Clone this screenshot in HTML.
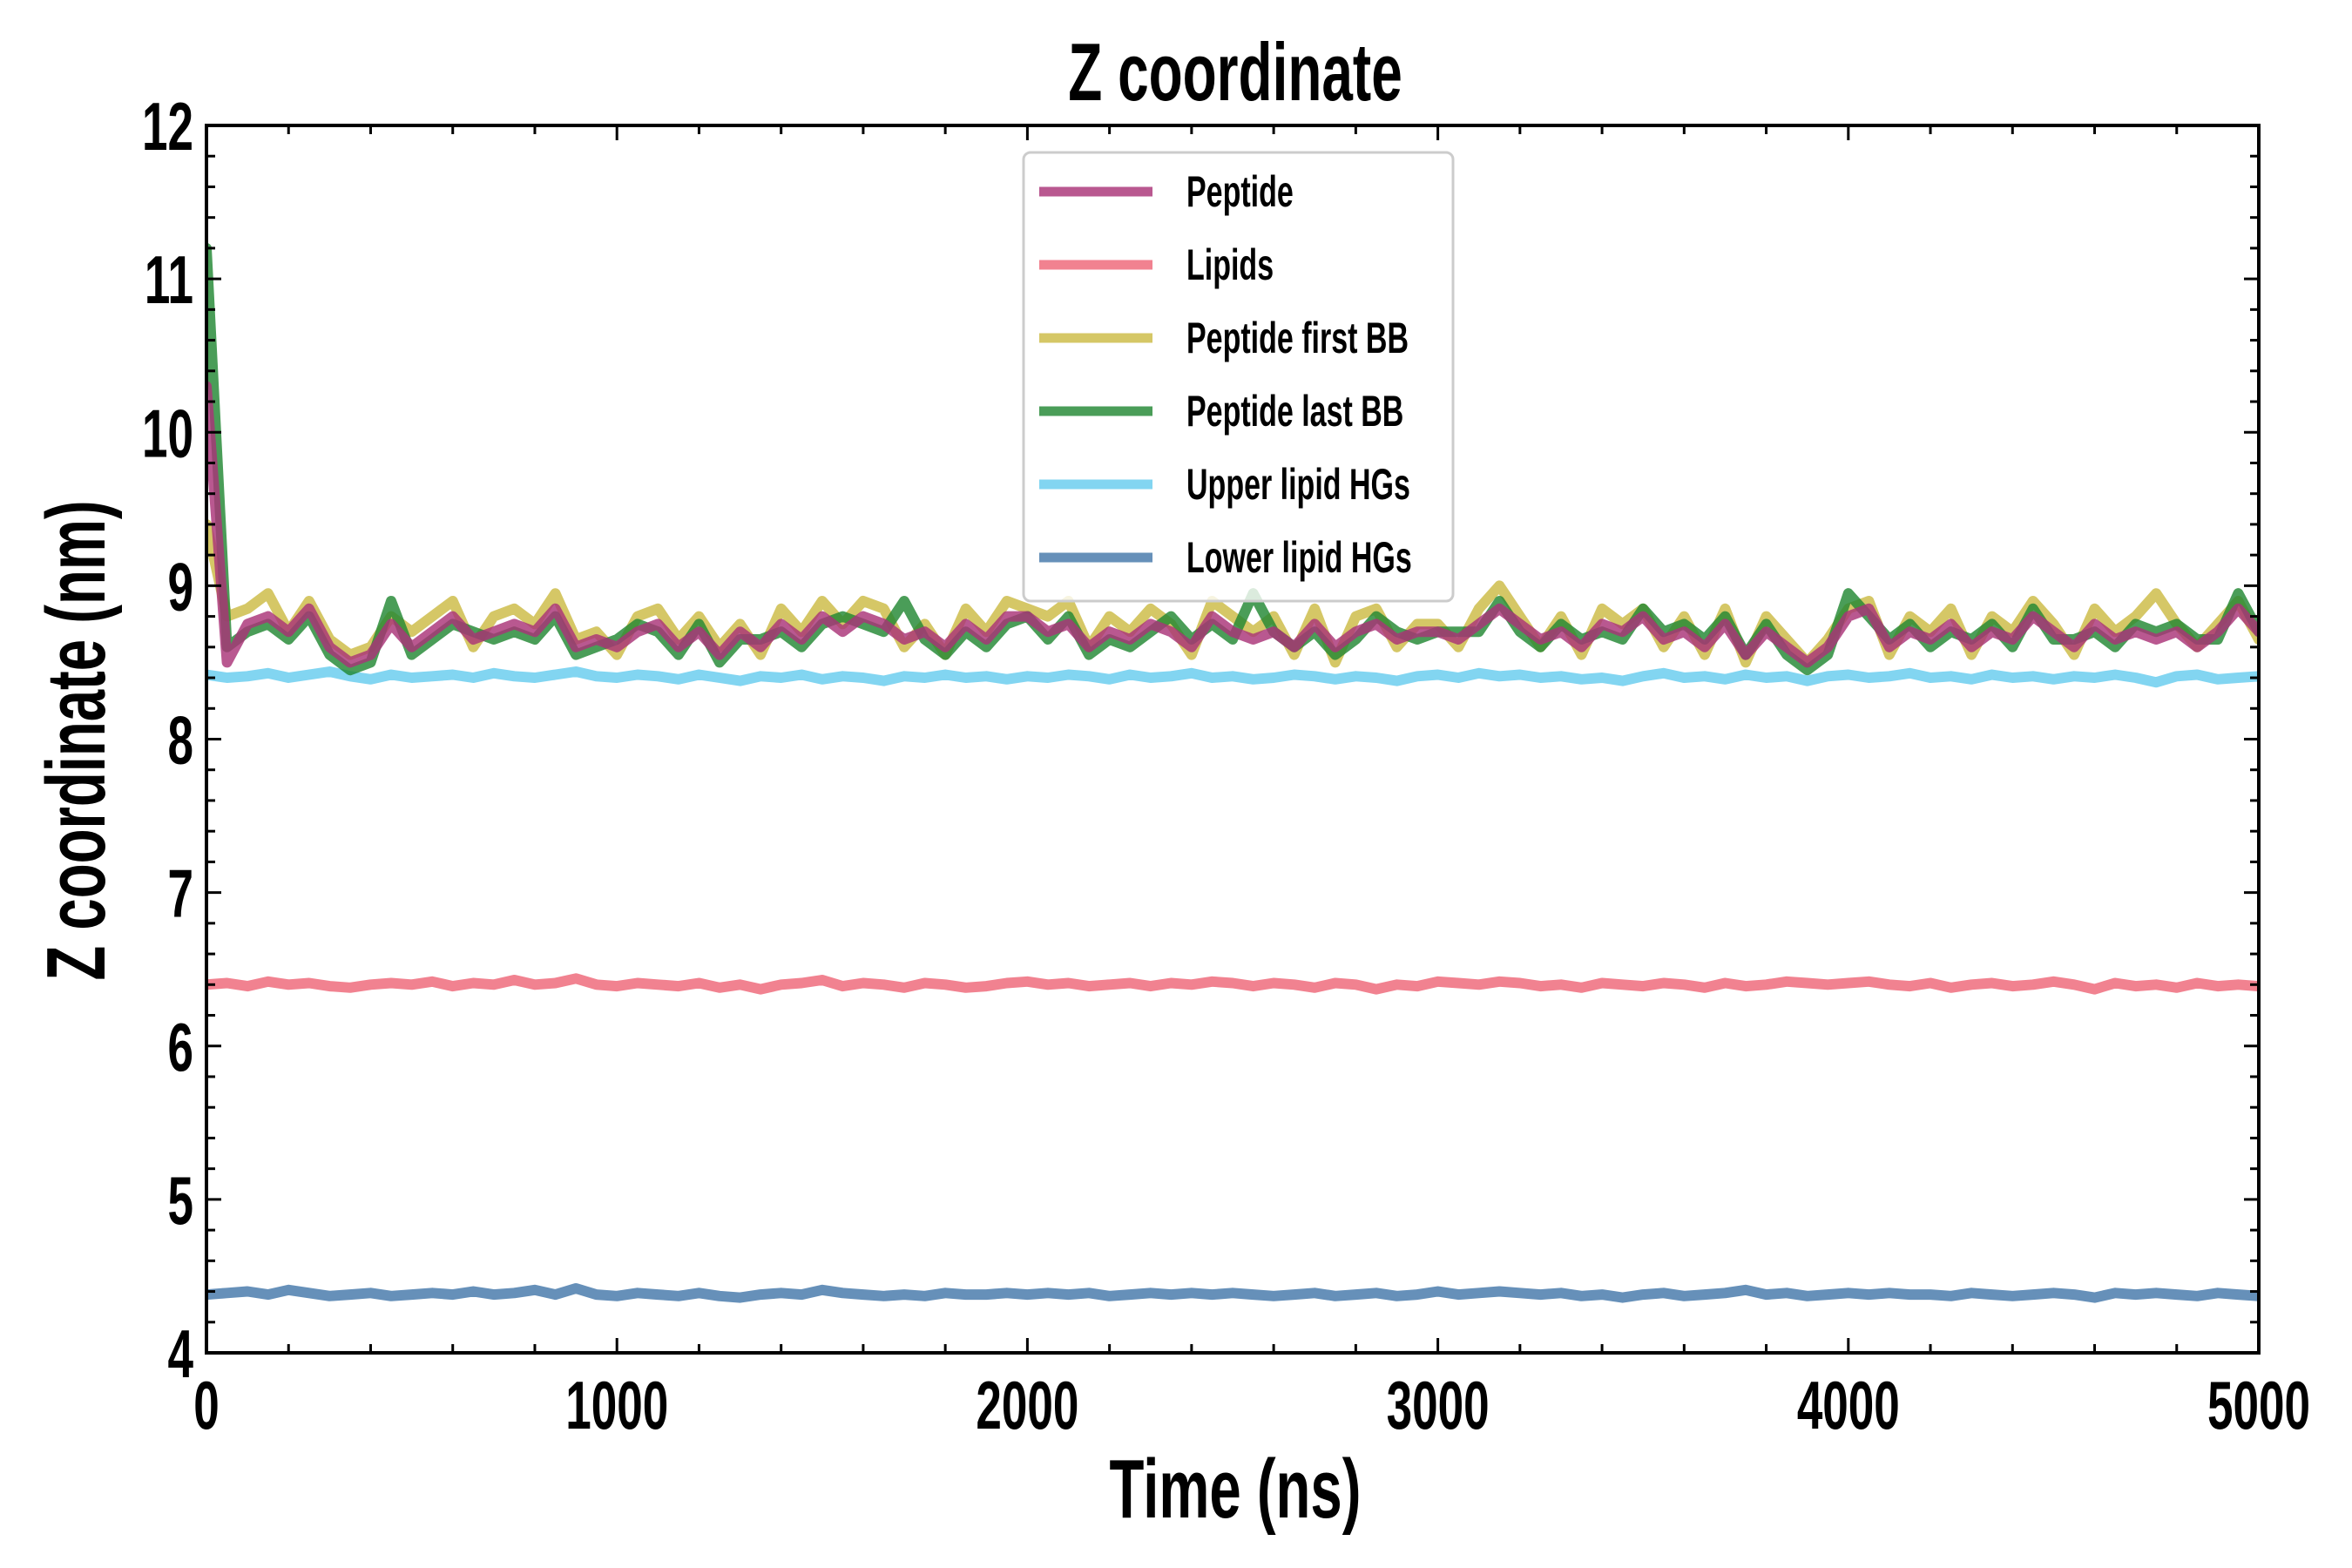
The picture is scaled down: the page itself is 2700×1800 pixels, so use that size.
<!DOCTYPE html>
<html><head><meta charset="utf-8"><style>
html,body{margin:0;padding:0;background:#fff;}
svg{display:block;}
text{font-family:"Liberation Sans",sans-serif;font-weight:bold;fill:#000;}
</style></head>
<body>
<svg id="chart" width="2700" height="1800" viewBox="0 0 2700 1800" xmlns="http://www.w3.org/2000/svg">
<rect width="2700" height="1800" fill="#fff"/>
<g id="series"></g>
<g id="axes"></g>
<g id="legend"></g>
</svg>
<script>
const timeStep = 50;
const peptide = [10.3,8.5,8.75,8.8,8.7,8.85,8.6,8.5,8.55,8.75,8.6,8.7,8.8,8.65,8.7,8.75,8.7,8.85,8.6,8.65,
8.6,8.7,8.75,8.6,8.7,8.55,8.7,8.6,8.75,8.65,
8.8,8.7,8.8,8.75,8.65,8.7,8.6,8.75,8.65,8.8,
8.8,8.7,8.75,8.6,8.7,8.65,8.75,8.7,8.6,8.8,
8.7,8.65,8.7,8.6,8.75,8.6,8.7,8.75,8.65,8.7,
8.7,8.65,8.75,8.85,8.75,8.65,8.7,8.6,8.75,8.7,
8.8,8.65,8.7,8.6,8.75,8.55,8.7,8.6,8.5,8.6,
8.8,8.85,8.6,8.7,8.65,8.75,8.6,8.7,8.65,8.8,
8.7,8.6,8.75,8.65,8.7,8.65,8.7,8.6,8.7,8.85,8.7];
const firstBB = [9.4,8.8,8.85,8.95,8.7,8.9,8.65,8.55,8.6,8.8,8.7,8.8,8.9,8.6,8.8,8.85,8.75,8.95,8.65,8.7,
8.55,8.8,8.85,8.65,8.8,8.6,8.75,8.55,8.85,8.7,
8.9,8.75,8.9,8.85,8.6,8.75,8.55,8.85,8.7,8.9,
8.85,8.8,8.9,8.6,8.8,8.7,8.85,8.75,8.55,8.9,
8.8,8.7,8.8,8.55,8.85,8.5,8.8,8.85,8.6,8.75,
8.75,8.6,8.85,9.0,8.8,8.6,8.8,8.55,8.85,8.75,
8.85,8.6,8.8,8.55,8.85,8.5,8.8,8.65,8.5,8.65,
8.85,8.9,8.55,8.8,8.7,8.85,8.55,8.8,8.7,8.9,
8.75,8.55,8.85,8.7,8.8,8.95,8.75,8.6,8.75,8.9,8.65];
const lastBB = [11.2,8.6,8.7,8.75,8.65,8.8,8.55,8.45,8.5,8.9,8.55,8.65,8.75,8.7,8.65,8.7,8.65,8.8,8.55,8.6,
8.65,8.75,8.7,8.55,8.75,8.5,8.65,8.65,8.7,8.6,
8.75,8.8,8.75,8.7,8.9,8.65,8.55,8.7,8.6,8.75,
8.8,8.65,8.8,8.55,8.65,8.6,8.7,8.8,8.65,8.75,
8.65,8.95,8.7,8.6,8.7,8.55,8.65,8.8,8.7,8.65,
8.7,8.7,8.7,8.9,8.7,8.6,8.75,8.65,8.7,8.65,
8.85,8.7,8.75,8.65,8.8,8.55,8.75,8.55,8.45,8.55,
8.95,8.8,8.65,8.75,8.6,8.7,8.65,8.75,8.6,8.85,
8.65,8.65,8.7,8.6,8.75,8.7,8.75,8.65,8.65,8.95,8.7];
const upperHG = [8.42,8.4,8.41,8.43,8.4,8.42,8.44,8.41,8.39,8.42,8.4,8.41,8.42,8.4,8.43,8.41,8.4,8.42,8.44,8.41,
8.4,8.42,8.41,8.39,8.42,8.4,8.38,8.41,8.4,8.42,
8.39,8.41,8.4,8.38,8.41,8.4,8.42,8.4,8.41,8.39,
8.41,8.4,8.42,8.41,8.39,8.42,8.4,8.41,8.43,8.4,
8.41,8.39,8.4,8.42,8.41,8.39,8.41,8.4,8.38,8.41,
8.42,8.4,8.43,8.41,8.42,8.4,8.41,8.39,8.4,8.38,
8.41,8.43,8.4,8.41,8.39,8.42,8.4,8.41,8.38,8.41,
8.42,8.4,8.41,8.43,8.4,8.41,8.39,8.42,8.4,8.41,
8.39,8.41,8.4,8.42,8.4,8.37,8.41,8.42,8.39,8.4,8.41];
const lipids = [6.4,6.41,6.39,6.42,6.4,6.41,6.39,6.38,6.4,6.41,6.4,6.42,6.39,6.41,6.4,6.43,6.4,6.41,6.44,6.4,
6.39,6.41,6.4,6.39,6.41,6.38,6.4,6.37,6.4,6.41,
6.43,6.39,6.41,6.4,6.38,6.41,6.4,6.38,6.39,6.41,
6.42,6.4,6.41,6.39,6.4,6.41,6.39,6.41,6.4,6.42,
6.41,6.39,6.41,6.4,6.38,6.41,6.4,6.37,6.4,6.39,
6.42,6.41,6.4,6.42,6.41,6.39,6.4,6.38,6.41,6.4,
6.39,6.41,6.4,6.38,6.41,6.39,6.4,6.42,6.41,6.4,
6.41,6.42,6.4,6.39,6.41,6.38,6.4,6.41,6.39,6.4,
6.42,6.4,6.37,6.41,6.39,6.4,6.38,6.41,6.39,6.4,6.39];
const lowerHG = [4.38,4.39,4.4,4.38,4.41,4.39,4.37,4.38,4.39,4.37,4.38,4.39,4.38,4.4,4.38,4.39,4.41,4.38,4.42,4.38,
4.37,4.39,4.38,4.37,4.39,4.37,4.36,4.38,4.39,4.38,
4.41,4.39,4.38,4.37,4.38,4.37,4.39,4.38,4.38,4.39,
4.38,4.39,4.38,4.39,4.37,4.38,4.39,4.38,4.39,4.38,
4.39,4.38,4.37,4.38,4.39,4.37,4.38,4.39,4.37,4.38,
4.4,4.38,4.39,4.4,4.39,4.38,4.39,4.37,4.38,4.36,
4.38,4.39,4.37,4.38,4.39,4.41,4.38,4.39,4.37,4.38,
4.39,4.38,4.39,4.38,4.38,4.37,4.39,4.38,4.37,4.38,
4.39,4.38,4.36,4.39,4.38,4.39,4.38,4.37,4.39,4.38,4.37];
const seriesNames = ["Peptide","Lipids","Peptide first BB","Peptide last BB","Upper lipid HGs","Lower lipid HGs"];
const xTicks = [0,1000,2000,3000,4000,5000];
const yTicks = [4,5,6,7,8,9,10,11,12];

const L=237,R=2593,T=144,B=1553, X0=0,X1=5000,Y0=4,Y1=12;
const NS="http://www.w3.org/2000/svg";
function xs(v){return L+(v-X0)/(X1-X0)*(R-L);}
function ys(v){return B-(v-Y0)/(Y1-Y0)*(B-T);}
function mk(tag,attrs,parent){const e=document.createElementNS(NS,tag);for(const k in attrs)e.setAttribute(k,attrs[k]);parent.appendChild(e);return e;}

const colors={"Peptide":"#aa3377","Lipids":"#ee6677","Peptide first BB":"#ccbb44","Peptide last BB":"#228833","Upper lipid HGs":"#66ccee","Lower lipid HGs":"#4477aa"};
const dataMap={"Peptide":peptide,"Lipids":lipids,"Peptide first BB":firstBB,"Peptide last BB":lastBB,"Upper lipid HGs":upperHG,"Lower lipid HGs":lowerHG};
const drawOrder=["Lipids","Upper lipid HGs","Lower lipid HGs","Peptide first BB","Peptide last BB","Peptide"];
const sg=document.getElementById('series');
const clip=mk('clipPath',{id:'pc'},sg);mk('rect',{x:L,y:T,width:R-L,height:B-T},clip);
drawOrder.forEach(n=>{
  const arr=dataMap[n];
  const d=arr.map((v,i)=>(i?'L':'M')+xs(i*timeStep).toFixed(1)+','+ys(v).toFixed(1)).join('');
  const p=mk('path',{d:d,fill:'none',stroke:colors[n],'stroke-opacity':0.82,'stroke-width':12,'stroke-linejoin':'round','stroke-linecap':'round','clip-path':'url(#pc)'},sg);
  
  
});

const ax=document.getElementById('axes');
const frame=mk('rect',{x:L,y:T,width:R-L,height:B-T,fill:'none',stroke:'#000','stroke-width':4},ax);


for(let v=0;v<=5000;v+=200){const maj=v%1000===0,len=maj?17:10,x=xs(v);
  mk('line',{x1:x,y1:B,x2:x,y2:B-len,stroke:'#000','stroke-width':3},ax);
  mk('line',{x1:x,y1:T,x2:x,y2:T+len,stroke:'#000','stroke-width':3},ax);}
for(let k=0;k<=40;k++){const v=4+k*0.2,maj=k%5===0,len=maj?17:10,y=ys(v);
  mk('line',{x1:L,y1:y,x2:L+len,y2:y,stroke:'#000','stroke-width':3},ax);
  mk('line',{x1:R,y1:y,x2:R-len,y2:y,stroke:'#000','stroke-width':3},ax);}
function txt(s,x,y,size,anchor,parent,name,rot){
  const t=mk('text',{'font-size':size,'text-anchor':anchor,transform:'translate('+x+','+y+')'+(rot?' rotate('+rot+')':'')+' scale(0.68,1)'},parent);
  t.textContent=s;
  
  
  return t;}
xTicks.forEach(v=>txt(String(v),xs(v),1640,78,'middle',ax,'x-tick-label'));
yTicks.forEach(v=>txt(String(v),222,ys(v)+28,78,'end',ax,'y-tick-label'));
txt('Z coordinate',1418,115,94,'middle',ax,'chart-title');
txt('Time (ns)',1418,1742,96,'middle',ax,'x-axis-title');
txt('Z coordinate (nm)',120,850,96,'middle',ax,'y-axis-title',-90);

const lg=document.getElementById('legend');
const box=mk('rect',{x:1175,y:175,width:493,height:515,rx:8,fill:'#fff','fill-opacity':0.8,stroke:'#ccc','stroke-width':3},lg);


seriesNames.forEach((n,i)=>{
  const y=220+i*84;
  const ln=mk('line',{x1:1193,y1:y,x2:1323,y2:y,stroke:colors[n],'stroke-opacity':0.82,'stroke-width':11},lg);
  
  
  txt(n,1362,y+17,50,'start',lg,'legend-entry');
});
</script>
</body></html>
